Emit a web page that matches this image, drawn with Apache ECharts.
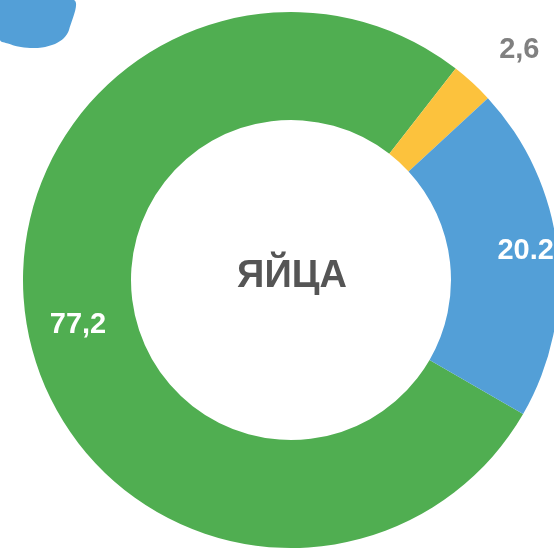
<!DOCTYPE html>
<html>
<head>
<meta charset="utf-8">
<style>
  html, body { margin: 0; padding: 0; background: #fff; }
  #chart { width: 554px; height: 548px; }
</style>
<script src="https://cdn.jsdelivr.net/npm/echarts@6/dist/echarts.min.js"></script>
</head>
<body>
<div id="chart"></div>
<script>
const categories = ["green", "yellow", "blue"];
const values = [77.2, 2.6, 20.2];
const valueLabels = ["77,2", "2,6", "20.2"];
const colors = ["#50ae51", "#fcc23d", "#539fd7"];
const centerTitle = "ЯЙЦА";

// nudges applied to labels after the pie has placed them
const labelNudge = [
  { dx: 0, dy: 3 },
  { dx: -8, dy: 0 },
  { dx: 19, dy: -5 },
];

const chart = echarts.init(document.getElementById("chart"));

const pieData = categories.map((name, i) => {
  const outside = i === 1;
  return {
    name,
    value: values[i],
    itemStyle: { color: colors[i] },
    label: {
      show: true,
      position: outside ? "outside" : "inside",
      formatter: () => valueLabels[i],
      color: outside ? "#808080" : "#ffffff",
      fontFamily: "Liberation Sans, Arial, sans-serif",
      fontWeight: "bold",
      fontSize: 29,
    },
    labelLine: { show: false, length: 44, length2: 0 },
  };
});

chart.setOption({
  backgroundColor: "#ffffff",
  animation: false,
  graphic: [
    {
      // bottom of the cup icon peeking in at the top-left corner
      type: "polygon",
      shape: {
        points: [
          [0, 0], [74, 0], [69, 30], [64, 38], [55, 44], [42, 47.5],
          [30, 48], [18, 46.5], [8, 43.5], [0, 40],
        ],
        smooth: 0.3,
      },
      style: { fill: "#539fd7" },
    },
    {
      type: "text",
      x: 292,
      y: 277,
      style: {
        text: centerTitle,
        align: "center",
        verticalAlign: "middle",
        fill: "#555555",
        fontFamily: "Liberation Sans, Arial, sans-serif",
        fontWeight: "bold",
        fontSize: 38,
      },
    },
  ],
  series: [
    {
      type: "pie",
      center: [291, 280],
      radius: [160, 268],
      startAngle: 330,
      clockwise: true,
      avoidLabelOverlap: false,
      silent: true,
      itemStyle: { borderWidth: 0 },
      labelLayout: (params) => labelNudge[params.dataIndex],
      data: pieData,
    },
  ],
});
</script>
</body>
</html>
